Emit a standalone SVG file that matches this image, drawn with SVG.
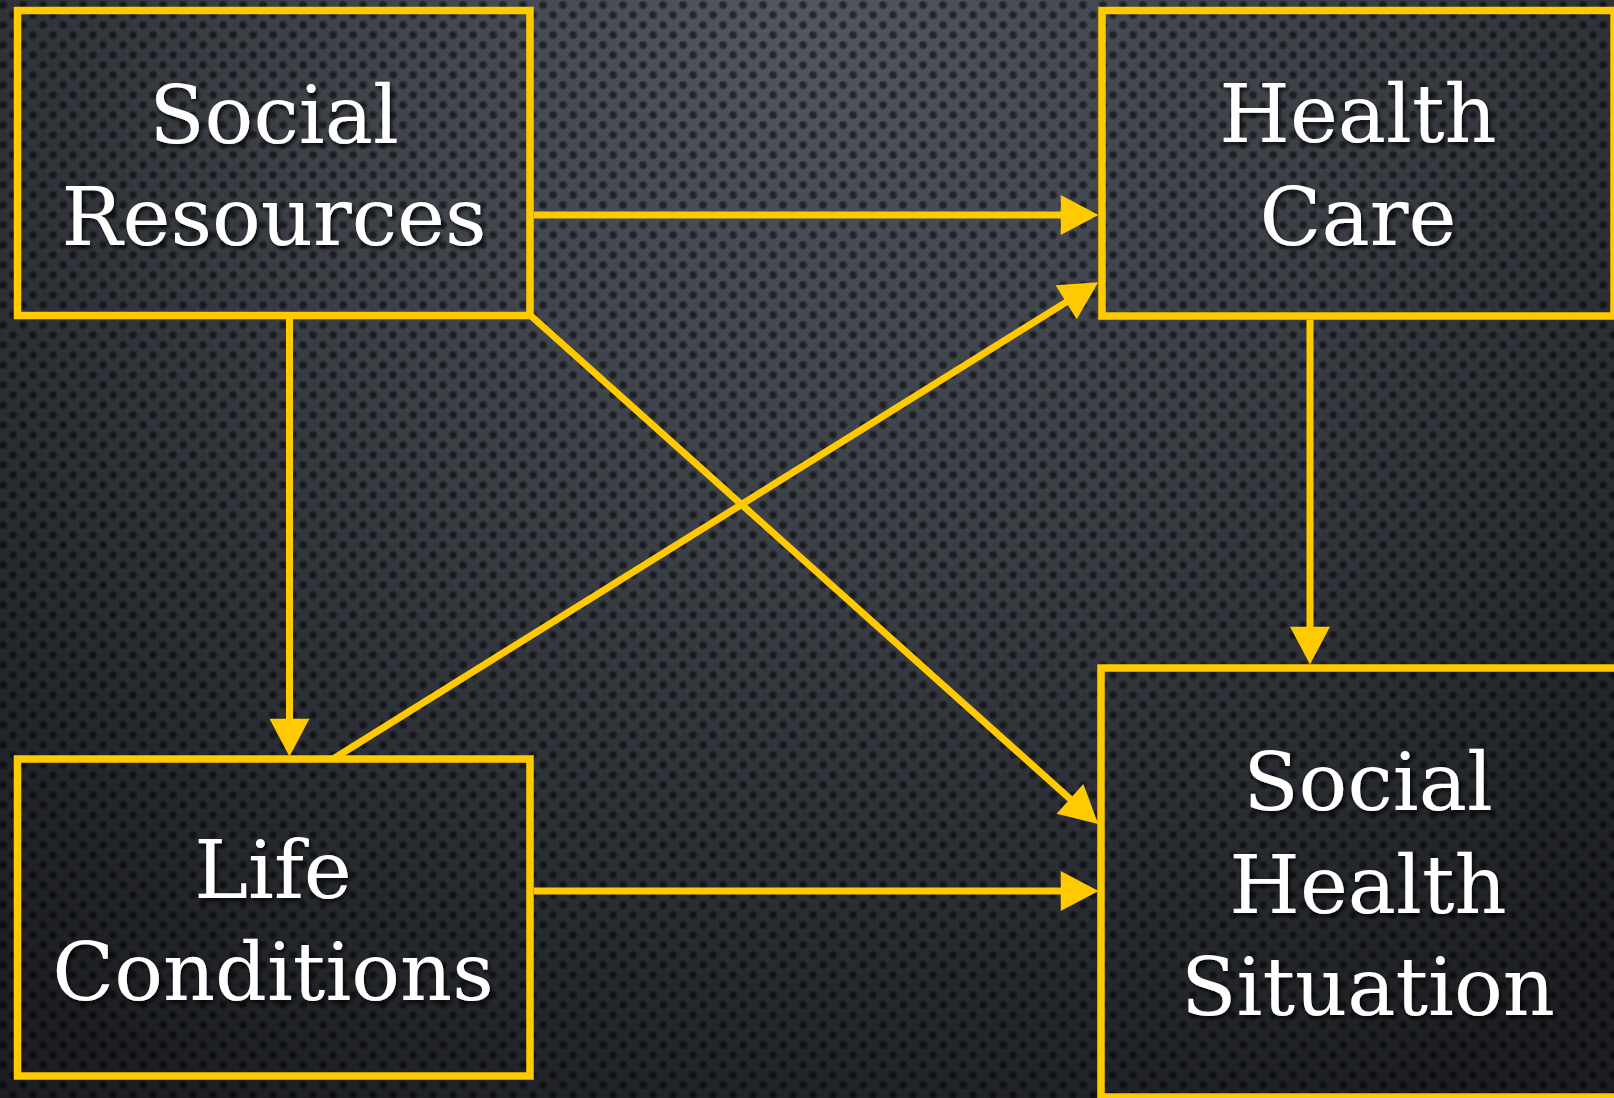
<svg xmlns="http://www.w3.org/2000/svg" width="1614" height="1098" viewBox="0 0 1614 1098">
  <style>
    .box { fill: none; stroke: #ffca00; stroke-width: 7.5; }
    .conn { fill: none; stroke: #ffca00; stroke-width: 7; }
    .label { font-family: "DejaVu Serif", "Liberation Serif", serif; font-size: 81px; fill: #ffffff; text-anchor: middle; filter: url(#shadow); }
  </style>
  <defs>
    <radialGradient id="bg" cx="800" cy="0" r="1250" gradientUnits="userSpaceOnUse">
      <stop offset="0" stop-color="#51565f"/>
      <stop offset="0.45" stop-color="#3a3e45"/>
      <stop offset="0.8" stop-color="#25282d"/>
      <stop offset="1" stop-color="#1c1e22"/>
    </radialGradient>
    <radialGradient id="dotg">
      <stop offset="0" stop-color="#000" stop-opacity="0.6"/>
      <stop offset="0.6" stop-color="#000" stop-opacity="0.45"/>
      <stop offset="1" stop-color="#000" stop-opacity="0"/>
    </radialGradient>
    <pattern id="dots" width="20" height="20" patternUnits="userSpaceOnUse">
      <circle cx="3" cy="5" r="5" fill="url(#dotg)"/>
      <circle cx="13" cy="15" r="5" fill="url(#dotg)"/>
      <circle cx="23" cy="5" r="5" fill="url(#dotg)"/>
      <circle cx="3" cy="25" r="5" fill="url(#dotg)"/>
      <circle cx="-7" cy="15" r="5" fill="url(#dotg)"/>
      <circle cx="13" cy="-5" r="5" fill="url(#dotg)"/>
    </pattern>
    <marker id="arrow" markerUnits="userSpaceOnUse" markerWidth="40" markerHeight="40" refX="6" refY="19" orient="auto" viewBox="0 0 36 38">
      <path d="M0,0 L36,19 L0,38 Z" fill="#ffca00"/>
    </marker>
    <filter id="shadow" x="-10%" y="-20%" width="120%" height="140%">
      <feDropShadow dx="2" dy="3" stdDeviation="2" flood-color="#000" flood-opacity="0.8"/>
    </filter>
  </defs>

  <rect x="0" y="0" width="1614" height="1098" fill="url(#bg)"/>
  <rect x="0" y="0" width="1614" height="1098" fill="url(#dots)"/>

  <g id="connectors">
    <line class="conn" x1="534" y1="215" x2="1067" y2="215" marker-end="url(#arrow)"/>
    <line class="conn" x1="289.5" y1="319" x2="289.5" y2="725" marker-end="url(#arrow)"/>
    <line class="conn" x1="1310" y1="320" x2="1310" y2="633" marker-end="url(#arrow)"/>
    <line class="conn" x1="530" y1="315" x2="1074.7" y2="803" marker-end="url(#arrow)"/>
    <line class="conn" x1="333" y1="759" x2="1071.5" y2="298.9" marker-end="url(#arrow)"/>
    <line class="conn" x1="534" y1="891" x2="1067" y2="891" marker-end="url(#arrow)"/>
  </g>

  <g id="social-resources">
    <rect class="box" x="17.5" y="10.5" width="512.5" height="305"/>
    <text class="label" x="274" y="143">Social</text>
    <text class="label" x="274" y="245">Resources</text>
  </g>

  <g id="health-care">
    <rect class="box" x="1102" y="10.5" width="512" height="305.5"/>
    <text class="label" x="1358" y="142">Health</text>
    <text class="label" x="1358" y="245">Care</text>
  </g>

  <g id="life-conditions">
    <rect class="box" x="17.5" y="759" width="512.5" height="317"/>
    <text class="label" x="273" y="898">Life</text>
    <text class="label" x="273" y="1000">Conditions</text>
  </g>

  <g id="social-health-situation">
    <rect class="box" x="1101" y="668" width="540" height="429"/>
    <text class="label" x="1368" y="810">Social</text>
    <text class="label" x="1368" y="913">Health</text>
    <text class="label" x="1368" y="1015">Situation</text>
  </g>
</svg>
